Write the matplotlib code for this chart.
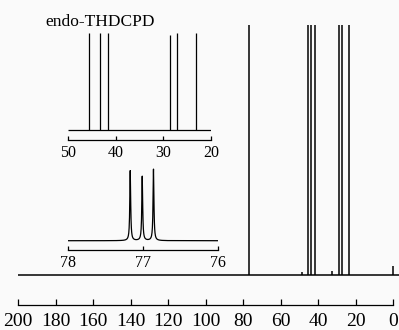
import numpy as np
import matplotlib
matplotlib.use("Agg")
import matplotlib.pyplot as plt

plt.rcParams['font.family'] = ['Liberation Serif', 'DejaVu Serif']

# peak lists (ppm, relative height)
main_ppm = [77.0, 45.5, 43.8, 41.6, 28.8, 27.3, 23.3, 48.5, 32.6, 0.2]
main_int = [1.0, 1.0, 1.0, 1.0, 1.0, 1.0, 1.0, 0.012, 0.015, 0.035]

zoom1_ppm = [45.5, 43.3, 41.7, 28.7, 27.1, 23.1]
zoom1_int = [1.0, 1.0, 1.0, 0.98, 1.0, 1.0]

cdcl3_ppm = [77.17, 77.01, 76.86]
cdcl3_int = [0.98, 0.90, 1.0]
cdcl3_hw = 0.007

main_ticks = [200, 180, 160, 140, 120, 100, 80, 60, 40, 20, 0]
zoom1_ticks = [50, 40, 30, 20]
zoom2_ticks = [78, 77, 76]

bg = '#fafafa'
fig = plt.figure(figsize=(3.99, 3.30), dpi=100, facecolor=bg)


def style(ax, ticks, lo, hi, fs, tl, pad):
    ax.set_facecolor('none')
    for s in ('left', 'right', 'top'):
        ax.spines[s].set_visible(False)
    ax.spines['bottom'].set_bounds(lo, hi)
    ax.spines['bottom'].set_linewidth(0.9)
    ax.set_yticks([])
    ax.set_xticks(ticks)
    ax.set_xticklabels([str(t) for t in ticks])
    ax.tick_params(axis='x', direction='in', length=tl, width=0.9,
                   labelsize=fs, pad=pad)


# full spectrum
ax = fig.add_axes([18 / 399, 25 / 330, 381 / 399, 285 / 330])
ax.hlines(0, 0 - 3.2, 200, color='k', lw=1.1)
ax.vlines(main_ppm, 0, main_int, color='k', lw=1.1)
ax.set_xlim(200, -3.2)
ax.set_ylim(-0.12, 1.02)
style(ax, main_ticks, 0, 200, 14, 4, 5.5)

# inset: 50-20 ppm
ax1 = fig.add_axes([68 / 399, 190 / 330, 143 / 399, 110 / 330])
ax1.hlines(0, 20, 50, color='k', lw=0.9)
ax1.vlines(zoom1_ppm, 0, zoom1_int, color='k', lw=0.9)
ax1.set_xlim(50, 20)
ax1.set_ylim(-0.103, 1.031)
style(ax1, zoom1_ticks, 20, 50, 11.5, 3, 3.5)
fig.text(45 / 399, 1 - 22 / 330, 'endo-THDCPD', fontsize=12.5,
         ha='left', va='center')

# inset: CDCl3 triplet
ax2 = fig.add_axes([68 / 399, 80 / 330, 150 / 399, 85 / 330])
x = np.linspace(76, 78, 2001)
y = np.zeros_like(x)
for p, h in zip(cdcl3_ppm, cdcl3_int):
    y += h * cdcl3_hw ** 2 / ((x - p) ** 2 + cdcl3_hw ** 2)
ax2.plot(x, y, color='k', lw=0.9)
ax2.set_xlim(78, 76)
ax2.set_ylim(-0.13, 1.06)
style(ax2, zoom2_ticks, 76, 78, 11.5, 3, 3.5)

fig.savefig('out.png', dpi=100, facecolor=bg)
